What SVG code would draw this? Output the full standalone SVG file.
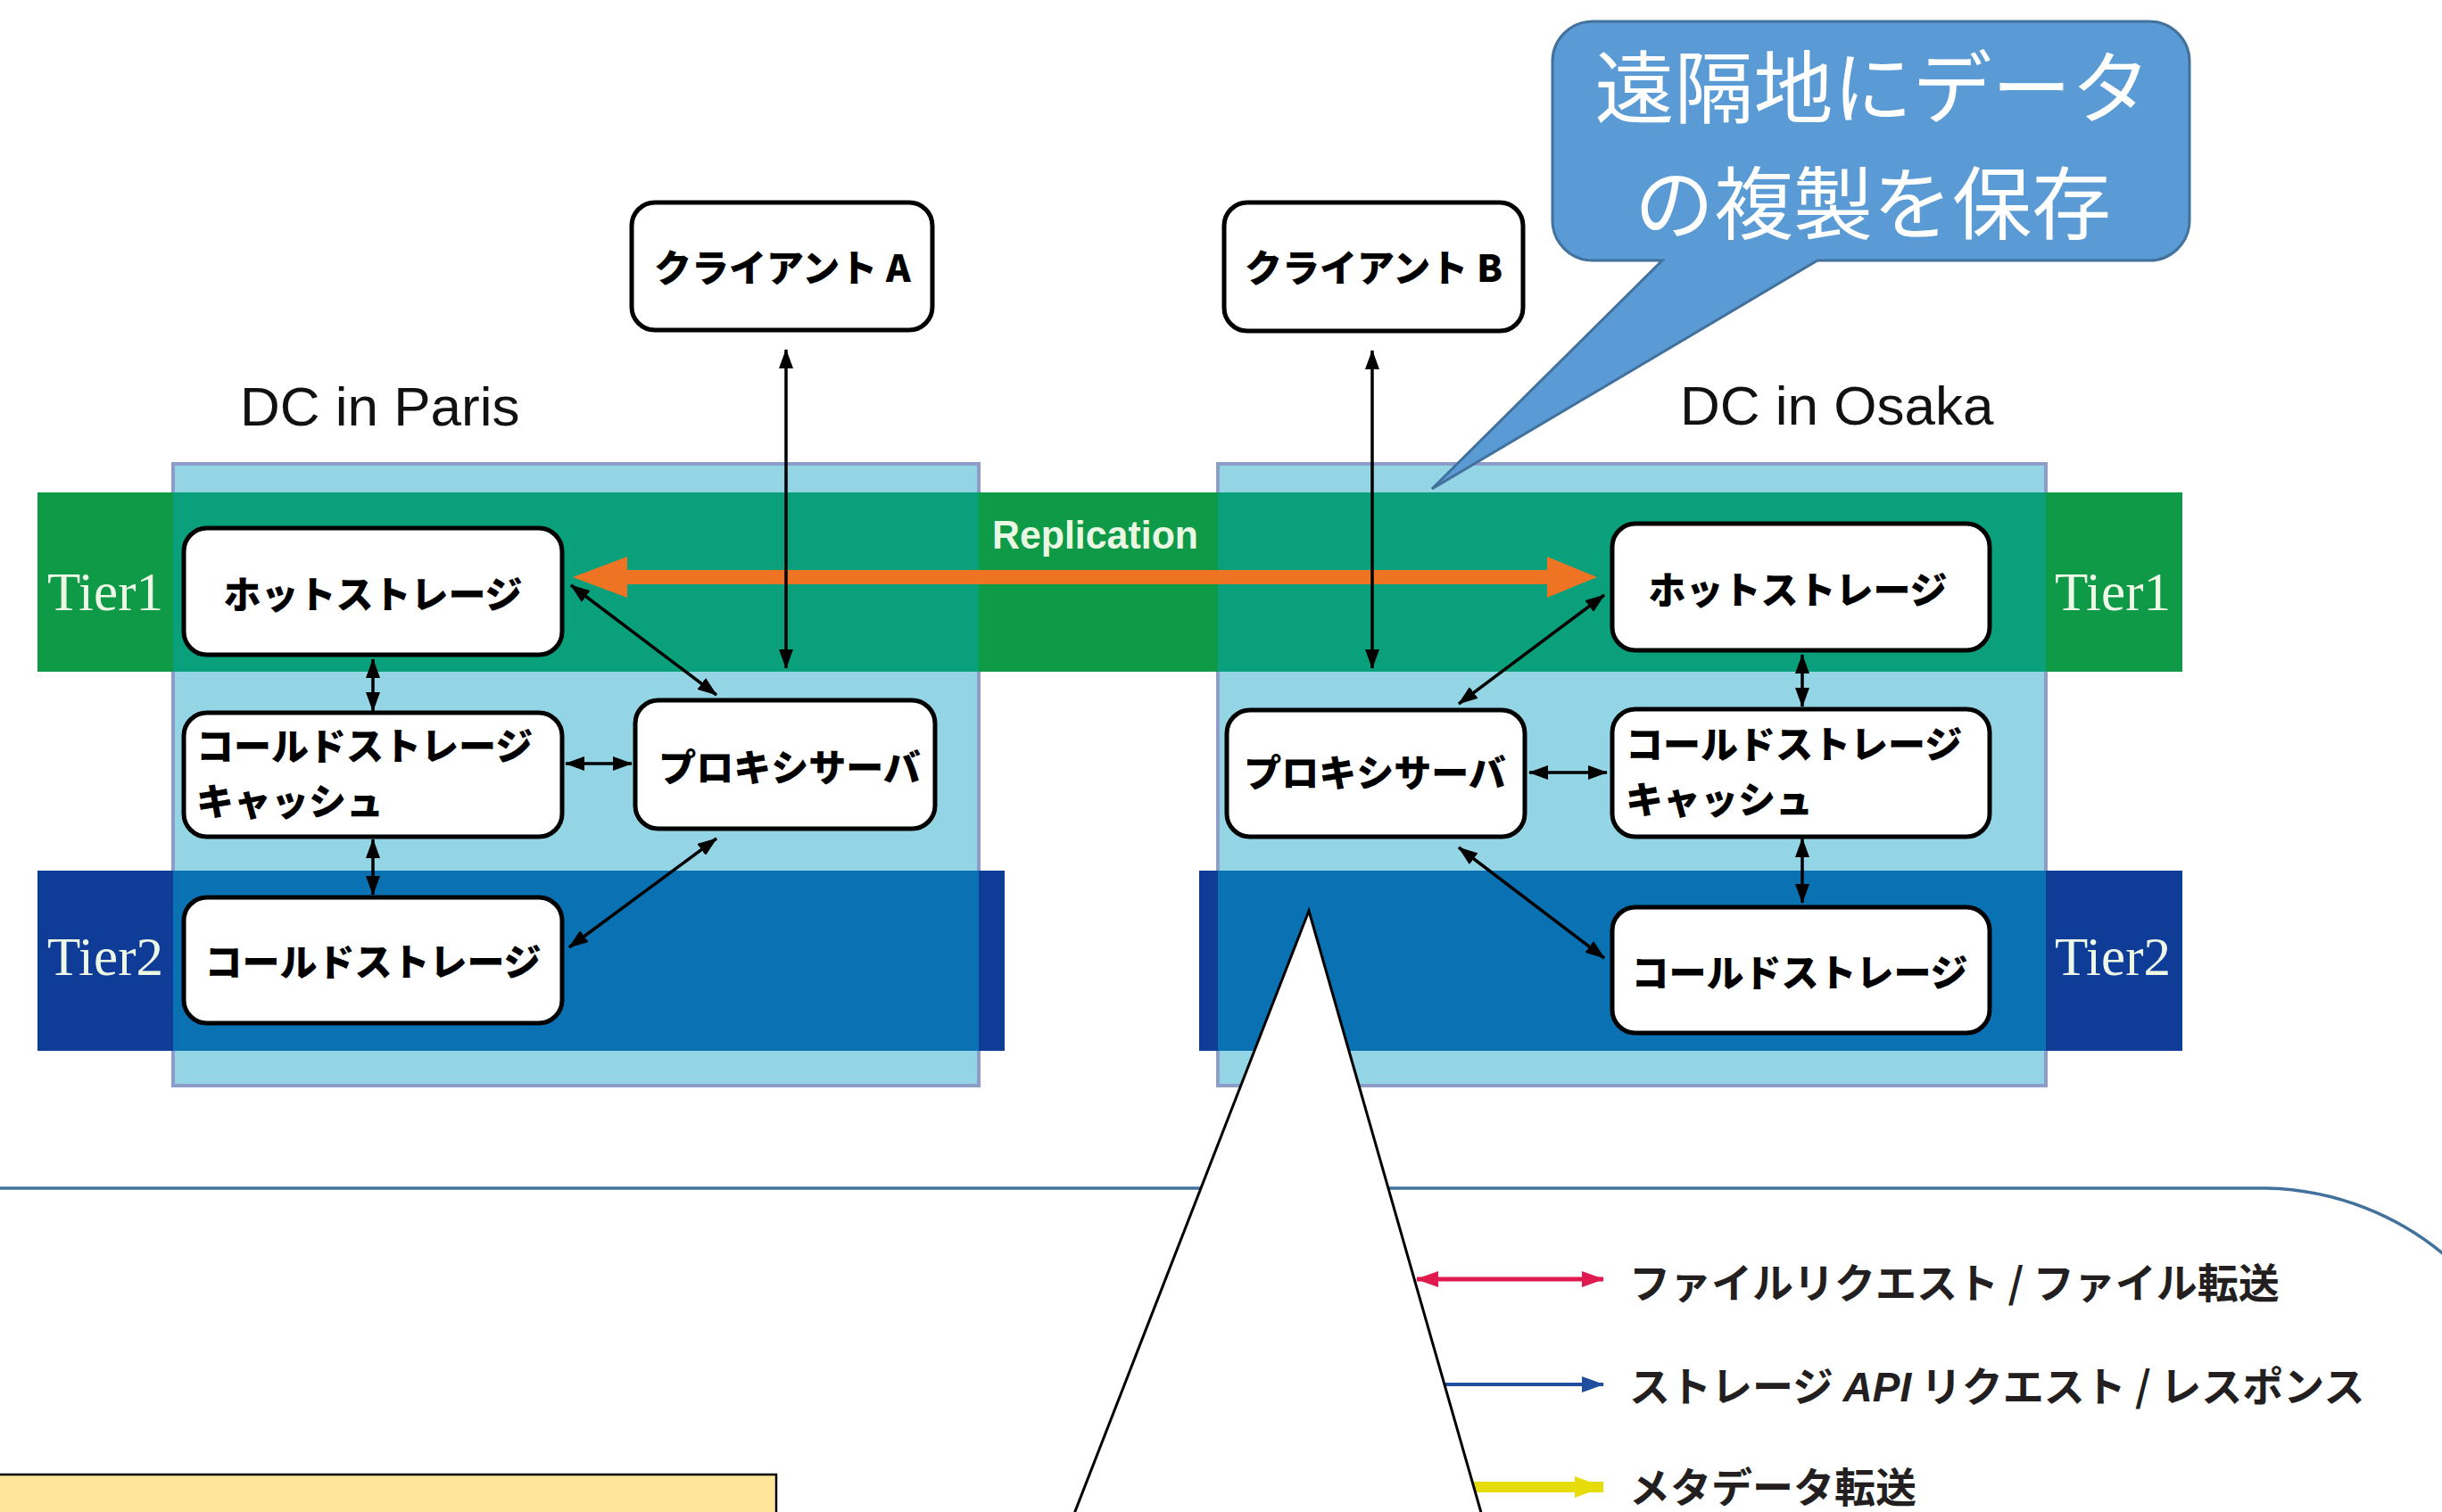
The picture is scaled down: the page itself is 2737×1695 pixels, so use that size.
<svg xmlns="http://www.w3.org/2000/svg" width="2737" height="1695" viewBox="0 0 2737 1695">
<style>
.region{fill:#93D5E5;stroke:#8E9CC9;stroke-width:4}
.node{fill:#fff;stroke:#000;stroke-width:5}
.nt{font-family:'Noto Sans CJK JP',sans-serif;font-weight:900;font-size:42px;fill:#000}
.tier{font-family:'Liberation Serif',serif;font-size:61px;fill:#EEF8E6}
.dc{font-family:'Liberation Sans',Arial,sans-serif;font-size:62px;fill:#111}
.lg{font-family:'Noto Sans CJK JP',sans-serif;font-weight:700;font-size:46px;fill:#231F20}
.con{stroke:#000;stroke-width:3.5;fill:none;marker-start:url(#ah);marker-end:url(#ah)}
.callt{font-family:'Noto Sans CJK JP',sans-serif;font-size:89px;fill:#fff}
</style>
<defs>
<marker id="ah" viewBox="0 0 22 16" refX="21" refY="8" markerWidth="22" markerHeight="16" markerUnits="userSpaceOnUse" orient="auto-start-reverse"><path d="M0,0 L22,8 L0,16 Z" fill="#000"/></marker>
<marker id="ahRed" viewBox="0 0 25 18" refX="24" refY="9" markerWidth="25" markerHeight="18" markerUnits="userSpaceOnUse" orient="auto-start-reverse"><path d="M0,0 L25,9 L0,18 Z" fill="#E0194F"/></marker>
<marker id="ahBlue" viewBox="0 0 25 18" refX="24" refY="9" markerWidth="25" markerHeight="18" markerUnits="userSpaceOnUse" orient="auto-start-reverse"><path d="M0,0 L25,9 L0,18 Z" fill="#1F4E9E"/></marker>
<marker id="ahYel" viewBox="0 0 33 24" refX="32" refY="12" markerWidth="33" markerHeight="24" markerUnits="userSpaceOnUse" orient="auto-start-reverse"><path d="M0,0 L33,12 L0,24 Z" fill="#E6DC0A"/></marker>
</defs>
<rect width="2737" height="1695" fill="#fff"/>

<g id="background">
  <rect class="region" x="194" y="520" width="903" height="697"/>
  <rect class="region" x="1365" y="520" width="928" height="697"/>
  <rect x="42" y="552" width="2404" height="201" fill="#0F9A47"/>
  <rect x="194" y="552" width="903" height="201" fill="#0AA07B"/>
  <rect x="1365" y="552" width="928" height="201" fill="#0AA07B"/>
  <rect x="42" y="976" width="1084" height="202" fill="#0E3C97"/>
  <rect x="1344" y="976" width="1102" height="202" fill="#0E3C97"/>
  <rect x="194" y="976" width="903" height="202" fill="#0A72B3"/>
  <rect x="1365" y="976" width="928" height="202" fill="#0A72B3"/>
</g>

<g id="labels">
  <text class="dc" x="269" y="477">DC in Paris</text>
  <text class="dc" x="1883" y="476">DC in Osaka</text>
  <text class="tier" x="53" y="684">Tier1</text>
  <text class="tier" x="53" y="1093">Tier2</text>
  <text class="tier" x="2303" y="684">Tier1</text>
  <text class="tier" x="2303" y="1093">Tier2</text>
  <text x="1112" y="615" font-family="'Liberation Sans',Arial,sans-serif" font-weight="700" font-size="45" fill="#E8F8E2" textLength="231" lengthAdjust="spacingAndGlyphs">Replication</text>
</g>

<g id="replication-arrow">
  <path d="M642,647 L703,624 L703,639 L1734,639 L1734,624 L1790,647 L1734,670 L1734,655 L703,655 L703,670 Z" fill="#EE7424"/>
</g>

<g id="connectors">
  <line class="con" x1="881" y1="392" x2="881" y2="749"/>
  <line class="con" x1="640" y1="656" x2="803" y2="779"/>
  <line class="con" x1="418" y1="739" x2="418" y2="797"/>
  <line class="con" x1="418" y1="941" x2="418" y2="1003"/>
  <line class="con" x1="634" y1="856" x2="708" y2="856"/>
  <line class="con" x1="803" y1="940" x2="638" y2="1062"/>
  <line class="con" x1="1538" y1="393" x2="1538" y2="749"/>
  <line class="con" x1="1798" y1="667" x2="1635" y2="789"/>
  <line class="con" x1="2020" y1="734" x2="2020" y2="792"/>
  <line class="con" x1="2020" y1="940" x2="2020" y2="1012"/>
  <line class="con" x1="1714" y1="866" x2="1801" y2="866"/>
  <line class="con" x1="1635" y1="950" x2="1798" y2="1074"/>
</g>

<g id="client-a"><rect class="node" x="708" y="227" width="337" height="143" rx="26"/><text class="nt" x="733" y="316">クライアント A</text></g>
<g id="client-b"><rect class="node" x="1372" y="227" width="335" height="144" rx="26"/><text class="nt" x="1395" y="316">クライアント B</text></g>

<g id="paris-hot"><rect class="node" x="206" y="592" width="424" height="142" rx="26"/><text class="nt" x="418" y="682" text-anchor="middle">ホットストレージ</text></g>
<g id="paris-cache"><rect class="node" x="206" y="799" width="424" height="139" rx="26"/><text class="nt" x="220" y="852">コールドストレージ</text><text class="nt" x="220" y="914">キャッシュ</text></g>
<g id="paris-cold"><rect class="node" x="206" y="1006" width="424" height="141" rx="26"/><text class="nt" x="418" y="1094" text-anchor="middle">コールドストレージ</text></g>
<g id="paris-proxy"><rect class="node" x="712" y="785" width="336" height="144" rx="26"/><text class="nt" x="885" y="876" text-anchor="middle">プロキシサーバ</text></g>

<g id="osaka-hot"><rect class="node" x="1807" y="587" width="423" height="142" rx="26"/><text class="nt" x="2015" y="677" text-anchor="middle">ホットストレージ</text></g>
<g id="osaka-proxy"><rect class="node" x="1375" y="796" width="334" height="142" rx="26"/><text class="nt" x="1541" y="882" text-anchor="middle">プロキシサーバ</text></g>
<g id="osaka-cache"><rect class="node" x="1807" y="795" width="423" height="143" rx="26"/><text class="nt" x="1822" y="850">コールドストレージ</text><text class="nt" x="1822" y="912">キャッシュ</text></g>
<g id="osaka-cold"><rect class="node" x="1807" y="1017" width="423" height="141" rx="26"/><text class="nt" x="2017" y="1106" text-anchor="middle">コールドストレージ</text></g>

<g id="callout">
  <path d="M1785,24 H2409 A45,45 0 0 1 2454,69 V247 A45,45 0 0 1 2409,292 H2037 L1605,548 L1863,292 H1785 A45,45 0 0 1 1740,247 V69 A45,45 0 0 1 1785,24 Z" fill="#5B9BD5" stroke="#41719C" stroke-width="3"/>
  <text class="callt" x="2099" y="131" text-anchor="middle">遠隔地にデータ</text>
  <text class="callt" x="2099" y="261" text-anchor="middle">の複製を保存</text>
</g>

<g id="frame">
  <path d="M-5,1332 H2534 A320,320 0 0 1 2854,1652" fill="none" stroke="#41719C" stroke-width="3.5"/>
  <rect x="-5" y="1653" width="875" height="100" fill="#FFE699" stroke="#000" stroke-width="2.5"/>
</g>

<g id="legend">
  <line x1="1588" y1="1434" x2="1797" y2="1434" stroke="#E0194F" stroke-width="5" marker-start="url(#ahRed)" marker-end="url(#ahRed)"/>
  <line x1="1600" y1="1552" x2="1797" y2="1552" stroke="#1F4E9E" stroke-width="4" marker-end="url(#ahBlue)"/>
  <line x1="1630" y1="1667" x2="1797" y2="1667" stroke="#E6DC0A" stroke-width="12" marker-end="url(#ahYel)"/>
  <text class="lg" x="1826" y="1455">ファイルリクエスト / ファイル転送</text>
  <text class="lg" x="1826" y="1571">ストレージ <tspan font-family="'Liberation Sans',Arial,sans-serif" font-style="italic">API</tspan> リクエスト / レスポンス</text>
  <text class="lg" x="1826" y="1684">メタデータ転送</text>
</g>

<g id="pointer">
  <polygon points="1467,1021 1195,1720 1667,1720" fill="#fff" stroke="#000" stroke-width="3"/>
</g>
</svg>
